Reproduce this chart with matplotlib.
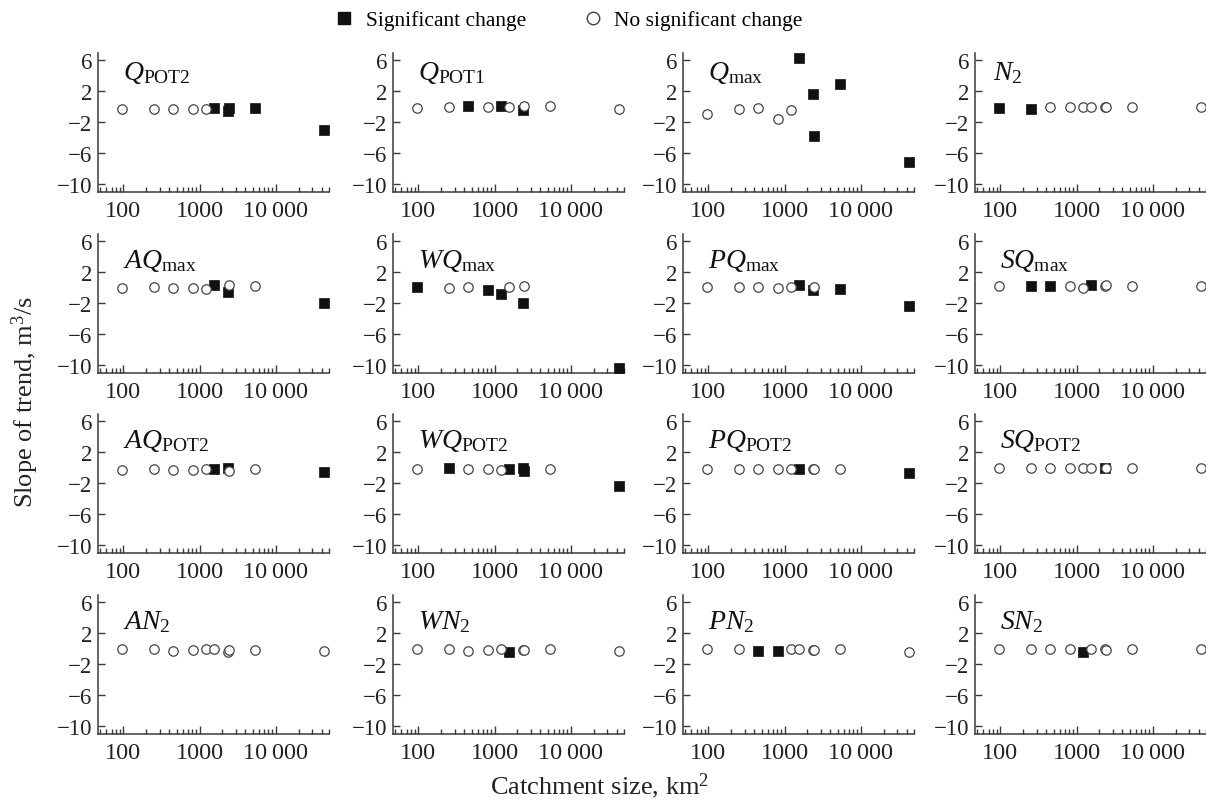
import numpy as np
import matplotlib
matplotlib.use("Agg")
import matplotlib.pyplot as plt
from matplotlib.ticker import FixedLocator, FixedFormatter, LogLocator, NullFormatter
from matplotlib.lines import Line2D

plt.rcParams['font.family'] = ['Liberation Serif', 'DejaVu Serif']
plt.rcParams['mathtext.fontset'] = 'custom'
plt.rcParams['mathtext.rm'] = 'Liberation Serif'
plt.rcParams['mathtext.it'] = 'Liberation Serif:italic'

# Catchment areas (km^2) of the stations
catchment = np.array([97, 255, 455, 830, 1220, 1560, 2380, 2450, 5400, 43000])

panel_titles = [
    r'$Q_{\mathrm{POT2}}$', r'$Q_{\mathrm{POT1}}$', r'$Q_{\mathrm{max}}$', r'$N_2$',
    r'$AQ_{\mathrm{max}}$', r'$WQ_{\mathrm{max}}$', r'$PQ_{\mathrm{max}}$', r'$SQ_{\mathrm{max}}$',
    r'$AQ_{\mathrm{POT2}}$', r'$WQ_{\mathrm{POT2}}$', r'$PQ_{\mathrm{POT2}}$', r'$SQ_{\mathrm{POT2}}$',
    r'$AN_2$', r'$WN_2$', r'$PN_2$', r'$SN_2$',
]

nan = np.nan
slopes = [
    [-0.37, -0.37, -0.37, -0.37, -0.37, -0.2, -0.65, -0.15, -0.15, -3.1],   # Q_POT2
    [-0.25, -0.1, 0.1, -0.1, 0.1, -0.1, -0.45, 0.1, 0.0, -0.3],             # Q_POT1
    [-0.97, -0.37, -0.24, -1.66, -0.5, 6.3, 1.6, -3.8, 2.86, -7.2],         # Q_max
    [-0.15, -0.28, -0.06, -0.06, -0.06, -0.06, -0.06, -0.06, -0.06, -0.06], # N2
    [-0.06, 0.0, -0.06, -0.06, -0.2, 0.37, -0.58, 0.37, 0.2, -2.05],        # AQ_max
    [0.0, -0.1, 0.06, -0.28, -0.84, 0.06, -2.0, 0.2, nan, -10.35],          # WQ_max
    [0.06, 0.06, 0.06, -0.03, 0.1, 0.28, -0.28, 0.06, -0.2, -2.35],         # PQ_max
    [0.13, 0.13, 0.13, 0.13, -0.04, 0.35, 0.13, 0.3, 0.13, 0.13],           # SQ_max
    [-0.3, -0.2, -0.3, -0.3, -0.2, -0.2, -0.05, -0.47, -0.2, -0.65],        # AQ_POT2
    [-0.17, -0.13, -0.17, -0.17, -0.3, -0.17, -0.13, -0.47, -0.17, -2.45],  # WQ_POT2
    [-0.17, -0.17, -0.17, -0.17, -0.17, -0.17, -0.17, -0.17, -0.17, -0.77], # PQ_POT2
    [-0.1, -0.1, -0.1, -0.1, -0.1, -0.1, -0.05, -0.1, -0.1, -0.1],          # SQ_POT2
    [-0.1, -0.1, -0.3, -0.2, -0.1, -0.1, -0.5, -0.2, -0.2, -0.3],           # AN2
    [-0.1, -0.1, -0.3, -0.2, -0.1, -0.4, -0.2, -0.2, -0.1, -0.3],           # WN2
    [-0.1, -0.1, -0.35, -0.35, -0.1, -0.1, -0.2, -0.2, -0.1, -0.4],         # PN2
    [-0.1, -0.1, -0.1, -0.1, -0.4, -0.1, -0.1, -0.2, -0.1, -0.1],           # SN2
]

significant = [
    [0, 0, 0, 0, 0, 1, 1, 1, 1, 1],
    [0, 0, 1, 0, 1, 0, 1, 0, 0, 0],
    [0, 0, 0, 0, 0, 1, 1, 1, 1, 1],
    [1, 1, 0, 0, 0, 0, 0, 0, 0, 0],
    [0, 0, 0, 0, 0, 1, 1, 0, 0, 1],
    [1, 0, 0, 1, 1, 0, 1, 0, 0, 1],
    [0, 0, 0, 0, 0, 1, 1, 0, 1, 1],
    [0, 1, 1, 0, 0, 1, 0, 0, 0, 0],
    [0, 0, 0, 0, 0, 1, 1, 0, 0, 1],
    [0, 1, 0, 0, 0, 1, 1, 1, 0, 1],
    [0, 0, 0, 0, 0, 1, 0, 0, 0, 1],
    [0, 0, 0, 0, 0, 0, 1, 0, 0, 0],
    [0, 0, 0, 0, 0, 0, 0, 0, 0, 0],
    [0, 0, 0, 0, 0, 1, 0, 0, 0, 0],
    [0, 0, 1, 1, 0, 0, 0, 0, 0, 0],
    [0, 0, 0, 0, 1, 0, 0, 0, 0, 0],
]

y_ticks = [6, 2, -2, -6, -10]
y_ticklabels = ['6', '2', '\u22122', '\u22126', '\u221210']
x_ticks = [100, 1000, 10000]
x_ticklabels = ['100', '1000', '10\u2009000']

W, H = 1206, 804
fig = plt.figure(figsize=(W / 100, H / 100), dpi=100)

lefts = [98, 393, 683, 975]
bottoms = [193, 374, 554, 735]
aw, ah = 231, 139
spine_col = '#3a3a3a'

for i in range(16):
    r, c = divmod(i, 4)
    ax = fig.add_axes([lefts[c] / W, (H - bottoms[r]) / H, aw / W, ah / H])
    ax.set_xscale('log')
    ax.set_xlim(46.5, 50000)
    ax.set_ylim(-11.05, 6.9)
    y = np.array(slopes[i], dtype=float)
    s = np.array(significant[i], dtype=bool)
    ax.scatter(catchment[s], y[s], marker='s', s=44, c='#111111',
               edgecolors='#111111', linewidths=0.5, zorder=3, clip_on=False)
    ax.scatter(catchment[~s], y[~s], marker='o', s=46, facecolors='white',
               edgecolors='#444444', linewidths=0.9, zorder=4, clip_on=False)
    for sp in ['top', 'right']:
        ax.spines[sp].set_visible(False)
    for sp in ['left', 'bottom']:
        ax.spines[sp].set_color(spine_col)
        ax.spines[sp].set_linewidth(1.1)
    ax.yaxis.set_major_locator(FixedLocator(y_ticks))
    ax.yaxis.set_major_formatter(FixedFormatter(y_ticklabels))
    ax.xaxis.set_major_locator(FixedLocator(x_ticks))
    ax.xaxis.set_major_formatter(FixedFormatter(x_ticklabels))
    ax.xaxis.set_minor_locator(LogLocator(base=10, subs=np.arange(2, 10), numticks=20))
    ax.xaxis.set_minor_formatter(NullFormatter())
    ax.tick_params(axis='y', direction='in', length=5, width=1, color=spine_col,
                   labelsize=16.5, pad=4, labelcolor='#222222')
    ax.tick_params(axis='x', which='major', direction='in', length=6, width=1,
                   color=spine_col, labelsize=17.5, pad=6, labelcolor='#222222')
    ax.tick_params(axis='x', which='minor', direction='in', length=3.5, width=1,
                   color=spine_col)
    tx = 0.08 if i == 3 else 0.11
    ty = 0.81 if r == 0 else 0.76
    ax.text(tx, ty, panel_titles[i], transform=ax.transAxes, fontsize=20,
            ha='left', va='baseline', color='#111111')

fig.text(0.008, 0.5, 'Slope of trend, m$^3$/s', rotation=90, va='center',
         ha='left', fontsize=19, color='#222222')
fig.text(0.497, 0.004, 'Catchment size, km$^2$', ha='center', va='bottom',
         fontsize=19, color='#222222')

handles = [
    Line2D([], [], marker='s', linestyle='none', markersize=9,
           markerfacecolor='#111111', markeredgecolor='#111111'),
    Line2D([], [], marker='o', linestyle='none', markersize=9,
           markerfacecolor='white', markeredgecolor='#444444'),
]
fig.legend(handles, ['Significant change', 'No significant change'],
           loc='upper center', bbox_to_anchor=(0.471, 1.01), ncol=2,
           frameon=False, fontsize=15.5, handlelength=1.0, handletextpad=0.5,
           columnspacing=2.6)

fig.savefig('out.png', dpi=100)
